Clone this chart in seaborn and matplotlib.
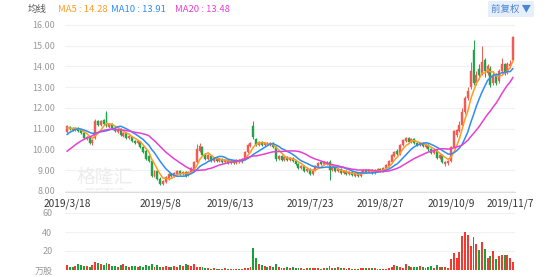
import numpy as np
import pandas as pd
import matplotlib
matplotlib.use("Agg")
import matplotlib.pyplot as plt
import seaborn as sns

# ---------------- data ----------------
pre_close = [8.80, 8.90, 8.85, 9.00, 9.10, 9.05, 9.20, 9.30, 9.25, 9.55,
             9.90, 10.20, 10.40, 10.60, 10.90, 11.00, 11.10, 10.95, 10.95]

open_ = [10.85, 11.10, 11.05, 10.95, 11.05, 10.95, 10.80, 10.50, 10.60, 10.30,
         10.55, 11.35, 11.20, 11.40, 11.75, 11.10, 11.25, 11.05, 10.85, 11.00,
         10.65, 10.80, 10.55, 10.60, 10.40, 10.30, 10.35, 10.10, 9.95, 9.70,
         9.45, 8.70, 8.95, 8.60, 8.35, 8.45, 8.60, 8.80, 8.70, 8.80,
         8.95, 8.80, 8.90, 8.75, 8.90, 9.05, 9.40, 9.95, 10.10, 9.80,
         9.55, 9.70, 9.45, 9.60, 9.45, 9.55, 9.40, 9.50, 9.35, 9.45,
         9.35, 9.50, 9.40, 9.55, 9.90, 10.15, 11.15, 10.50, 10.20, 10.35,
         10.20, 10.30, 10.20, 10.30, 10.10, 9.55, 9.70, 9.50, 9.65, 9.50,
         9.60, 9.45, 9.30, 9.10, 9.20, 8.95, 9.05, 8.80, 9.00, 9.20,
         9.40, 9.30, 9.40, 9.40, 9.00, 9.10, 8.95, 9.05, 8.85, 8.95,
         8.80, 8.90, 8.70, 8.85, 8.70, 8.90, 9.00, 8.90, 9.00, 8.85,
         9.00, 9.05, 8.95, 9.10, 9.20, 9.40, 9.70, 9.95, 9.80, 10.20,
         10.40, 10.55, 10.35, 10.50, 10.30, 10.20, 10.30, 10.10, 10.20, 10.00,
         9.85, 9.95, 9.60, 9.75, 9.30, 9.35, 9.45, 10.10, 10.70, 10.90,
         11.20, 11.80, 12.50, 13.00, 14.80, 13.20, 13.90, 13.70, 14.30, 13.70,
         13.90, 13.20, 13.60, 13.30, 13.80, 14.10, 13.70, 14.00, 14.30]

high = [11.20, 11.15, 11.10, 11.10, 11.10, 11.00, 10.85, 10.65, 10.65, 10.50,
        11.45, 11.40, 11.40, 11.45, 11.85, 11.30, 11.30, 11.10, 11.05, 11.05,
        10.85, 10.85, 10.70, 10.65, 10.45, 10.45, 10.40, 10.15, 10.00, 9.75,
        9.50, 9.00, 9.00, 8.65, 8.55, 8.70, 8.85, 8.85, 8.90, 9.00,
        9.00, 8.95, 8.95, 8.95, 9.15, 9.45, 10.25, 10.30, 10.15, 9.85,
        9.80, 9.75, 9.65, 9.65, 9.60, 9.60, 9.55, 9.55, 9.50, 9.50,
        9.55, 9.55, 9.60, 9.95, 10.25, 10.35, 11.35, 10.55, 10.40, 10.40,
        10.35, 10.35, 10.35, 10.35, 10.15, 9.75, 9.75, 9.70, 9.70, 9.65,
        9.65, 9.50, 9.35, 9.25, 9.25, 9.10, 9.10, 9.05, 9.25, 9.40,
        9.45, 9.45, 9.45, 9.50, 9.15, 9.15, 9.10, 9.10, 9.00, 9.00,
        8.95, 8.95, 8.90, 8.90, 8.95, 9.05, 9.05, 9.05, 9.05, 9.05,
        9.10, 9.10, 9.15, 9.30, 9.50, 9.80, 9.95, 10.00, 10.25, 10.50,
        10.60, 10.60, 10.55, 10.55, 10.35, 10.35, 10.35, 10.30, 10.25, 10.05,
        10.00, 10.00, 9.80, 9.80, 9.45, 9.50, 10.15, 10.95, 11.00, 11.35,
        12.00, 12.60, 13.00, 14.20, 15.30, 13.80, 14.10, 15.00, 14.40, 14.10,
        14.00, 13.80, 13.70, 13.90, 14.40, 14.15, 14.20, 14.30, 15.45]

low = [10.80, 10.95, 10.90, 10.90, 10.85, 10.75, 10.50, 10.45, 10.25, 10.20,
       10.50, 11.15, 11.15, 11.20, 11.10, 11.05, 11.00, 10.85, 10.80, 10.65,
       10.60, 10.50, 10.50, 10.35, 10.25, 10.25, 10.05, 9.85, 9.50, 9.40,
       8.65, 8.65, 8.55, 8.30, 8.30, 8.40, 8.55, 8.65, 8.65, 8.75,
       8.75, 8.75, 8.65, 8.70, 8.85, 9.00, 9.35, 9.90, 9.70, 9.50,
       9.50, 9.40, 9.40, 9.40, 9.40, 9.35, 9.35, 9.30, 9.30, 9.30,
       9.30, 9.35, 9.35, 9.50, 9.85, 10.10, 10.50, 10.15, 10.15, 10.15,
       10.15, 10.20, 10.15, 10.05, 9.45, 9.50, 9.45, 9.45, 9.45, 9.45,
       9.40, 9.25, 9.05, 9.05, 8.90, 8.90, 8.75, 8.75, 8.95, 9.15,
       9.25, 9.25, 9.25, 8.55, 8.95, 8.90, 8.90, 8.80, 8.80, 8.75,
       8.75, 8.70, 8.65, 8.65, 8.65, 8.85, 8.85, 8.85, 8.80, 8.80,
       8.95, 8.90, 8.90, 9.05, 9.15, 9.35, 9.65, 9.75, 9.75, 10.15,
       10.35, 10.30, 10.30, 10.25, 10.15, 10.15, 10.10, 10.05, 9.95, 9.80,
       9.80, 9.55, 9.55, 9.35, 9.20, 9.25, 9.40, 10.05, 10.60, 10.85,
       11.15, 11.70, 12.40, 12.90, 13.10, 13.10, 13.40, 13.60, 13.50, 13.60,
       13.00, 13.10, 13.10, 13.20, 13.70, 13.60, 13.65, 13.95, 14.25]

close = [11.15, 11.00, 10.95, 11.05, 10.90, 10.80, 10.55, 10.60, 10.30, 10.45,
         11.35, 11.20, 11.35, 11.25, 11.15, 11.25, 11.05, 10.90, 11.00, 10.70,
         10.80, 10.55, 10.65, 10.40, 10.30, 10.40, 10.10, 9.90, 9.55, 9.45,
         8.70, 8.95, 8.60, 8.35, 8.50, 8.65, 8.80, 8.70, 8.85, 8.95,
         8.80, 8.90, 8.70, 8.90, 9.10, 9.40, 10.00, 10.15, 9.75, 9.55,
         9.75, 9.45, 9.60, 9.45, 9.55, 9.40, 9.50, 9.35, 9.45, 9.35,
         9.50, 9.40, 9.55, 9.90, 10.20, 10.30, 10.60, 10.20, 10.35, 10.20,
         10.30, 10.25, 10.30, 10.10, 9.55, 9.70, 9.50, 9.65, 9.50, 9.60,
         9.45, 9.30, 9.10, 9.20, 8.95, 9.05, 8.80, 9.00, 9.20, 9.35,
         9.30, 9.40, 9.30, 9.00, 9.10, 8.95, 9.05, 8.85, 8.95, 8.80,
         8.90, 8.75, 8.85, 8.70, 8.90, 9.00, 8.90, 9.00, 8.85, 9.00,
         9.05, 8.95, 9.10, 9.25, 9.45, 9.75, 9.90, 9.80, 10.20, 10.45,
         10.55, 10.35, 10.50, 10.30, 10.20, 10.30, 10.15, 10.25, 10.00, 9.85,
         9.95, 9.60, 9.75, 9.40, 9.40, 9.45, 10.10, 10.90, 10.95, 11.20,
         11.80, 12.50, 12.80, 13.80, 13.20, 13.60, 13.60, 14.20, 13.80, 14.00,
         13.10, 13.60, 13.20, 13.80, 14.10, 13.70, 14.10, 14.10, 15.40]

volume = [5, 3, 3, 4, 6, 5, 4, 4, 3, 5,
          8, 7, 6, 5, 7, 6, 4, 4, 3, 5,
          6, 4, 3, 4, 4, 3, 4, 3, 5, 4,
          6, 3, 5, 3, 3, 4, 3, 3, 4, 3,
          5, 4, 6, 5, 4, 6, 3, 3, 3, 2,
          2, 1, 2, 1, 1, 1, 2, 1, 1, 1,
          1, 1, 1, 2, 2, 3, 23, 13, 6, 5,
          4, 3, 4, 3, 6, 3, 2, 2, 3, 2,
          3, 2, 2, 2, 1, 2, 2, 2, 2, 2,
          1, 2, 2, 4, 2, 2, 3, 2, 2, 1,
          2, 1, 1, 1, 2, 2, 2, 2, 2, 2,
          1, 1, 1, 1, 2, 3, 5, 4, 3, 2,
          6, 4, 3, 3, 3, 4, 3, 2, 3, 4,
          2, 5, 3, 3, 3, 2, 12, 18, 13, 19,
          36, 40, 37, 25, 35, 27, 21, 30, 22, 13,
          15, 20, 12, 15, 16, 16, 16, 13, 8]

holidays = ["2019-04-05", "2019-05-01", "2019-05-02", "2019-05-03", "2019-06-07",
            "2019-09-13", "2019-10-01", "2019-10-02", "2019-10-03", "2019-10-04",
            "2019-10-07"]
tick_labels = ["2019/3/18", "2019/5/8", "2019/6/13", "2019/7/23",
               "2019/8/27", "2019/10/9", "2019/11/7"]
ma_windows = [5, 10, 20]
ma_names = ["MA5", "MA10", "MA20"]
price_ticks = [8, 9, 10, 11, 12, 13, 14, 15, 16]
vol_ticks = [20, 40, 60]

# ---------------- style ----------------
sns.set_style("white")
plt.rcParams["font.family"] = ["Noto Sans CJK SC", "DejaVu Sans"]

UP = "#f25a52"
DOWN = "#1fa446"
VUP = "#f43a2f"
VDOWN = "#18a23a"
MA_COLORS = {"MA5": "#ff9b22", "MA10": "#2f8cf4", "MA20": "#e640d0"}
GRID = "#f1f1f1"

n = len(close)
dates = pd.bdate_range("2019-03-18", "2019-11-08", freq="C", holidays=holidays)
date_labels = [f"{d.year}/{d.month}/{d.day}" for d in dates][:n]
idx = np.arange(n)

full = pd.Series(pre_close + close)
rows = []
for w, name in zip(ma_windows, ma_names):
    ma = full.rolling(w).mean().iloc[len(pre_close):].to_numpy()
    rows.append(pd.DataFrame({"i": idx, "v": ma, "ma": name}))
ma_df = pd.concat(rows, ignore_index=True)

o = np.array(open_); c = np.array(close); h = np.array(high); l = np.array(low)
up = c >= o

W, H = 554, 277
fig = plt.figure(figsize=(W / 100, H / 100), dpi=100)

def box(x0, y0, x1, y1):
    return [x0 / W, 1 - y1 / H, (x1 - x0) / W, (y1 - y0) / H]

ax = fig.add_axes(box(65, 25, 515, 192))
axv = fig.add_axes(box(65, 213, 515, 270))

# price panel
for t in price_ticks:
    ax.axhline(t, color=GRID, lw=0.8, zorder=0)
cols = np.where(up, UP, DOWN)
ax.vlines(idx, l, h, colors=cols, lw=0.7, zorder=2)
body_h = np.maximum(np.abs(c - o), 0.03)
ax.bar(idx, body_h, bottom=np.minimum(o, c), width=0.7, color=cols,
       edgecolor=cols, linewidth=0.3, zorder=3)
sns.lineplot(data=ma_df, x="i", y="v", hue="ma", palette=MA_COLORS,
             linewidth=1.1, legend=False, ax=ax, zorder=4)

ax.set_xlim(-0.7, n - 0.3)
ax.set_ylim(7.95, 16.0)
ax.set_yticks(price_ticks)
ax.set_yticklabels([f"{t:.2f}" for t in price_ticks])
tpos = [date_labels.index(t) for t in tick_labels]
ax.set_xticks(tpos)
ax.set_xticklabels(tick_labels)
ax.tick_params(axis="y", length=0, pad=7, labelsize=6.5, labelcolor="#9a9a9a")
ax.tick_params(axis="x", length=3, width=0.6, color="#d8d8d8", pad=2,
               labelsize=7.3, labelcolor="#333333")
ax.set_xlabel(""); ax.set_ylabel("")
for s in ["top", "right", "left"]:
    ax.spines[s].set_visible(False)
ax.spines["bottom"].set_color("#dcdcdc")
ax.spines["bottom"].set_linewidth(0.7)

# watermark
ax.text(0.089, 0.085, "格隆汇", transform=ax.transAxes, ha="center", va="center",
        fontsize=13.5, color="#ececec", zorder=1)
ax.text(0.089, 0.015, "www.gelonghui.com", transform=ax.transAxes, ha="center",
        va="center", fontsize=2.8, color="#e2e2e2", zorder=1)

# volume panel
for t in vol_ticks:
    axv.axhline(t, color=GRID, lw=0.8, zorder=0)
vcols = np.where(up, VUP, VDOWN)
axv.bar(idx, volume, width=0.68, color=vcols, linewidth=0, zorder=2)
axv.set_xlim(-0.7, n - 0.3)
axv.set_ylim(0, 60)
axv.set_yticks([0] + vol_ticks)
axv.set_yticklabels(["万股"] + [str(t) for t in vol_ticks])
axv.set_xticks([])
axv.tick_params(axis="y", length=0, pad=9, labelsize=6.5, labelcolor="#9a9a9a")
for s in axv.spines.values():
    s.set_visible(False)

# header
fig.text(28 / W, 1 - 9 / H, "均线", fontsize=6.8, color="#555555", va="center")
fig.text(58 / W, 1 - 9 / H, f"MA5 : {full.iloc[-5:].mean():.2f}", fontsize=6.8,
         color=MA_COLORS["MA5"], va="center")
fig.text(111 / W, 1 - 9 / H, f"MA10 : {full.iloc[-10:].mean():.2f}", fontsize=6.8,
         color=MA_COLORS["MA10"], va="center")
fig.text(175 / W, 1 - 9 / H, f"MA20 : {full.iloc[-20:].mean():.2f}", fontsize=6.8,
         color=MA_COLORS["MA20"], va="center")
fig.text(511 / W, 1 - 9 / H, "前复权 ▼", fontsize=6.8, color="#4a84d6",
         va="center", ha="center",
         bbox=dict(boxstyle="square,pad=0.35", fc="#e7effb", ec="none"))

fig.savefig("out.png", dpi=100, facecolor="white")
